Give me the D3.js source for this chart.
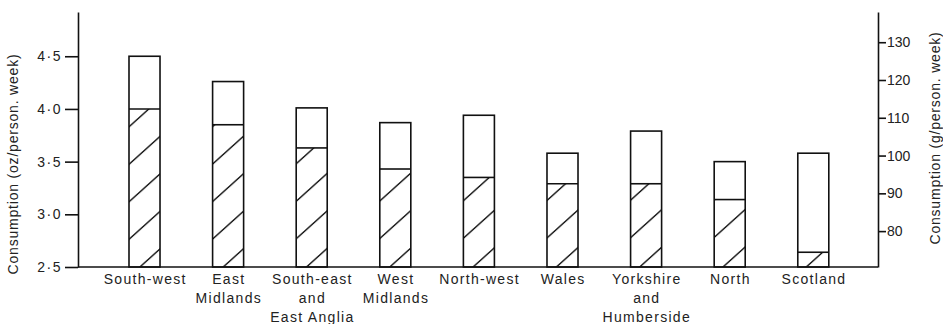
<!DOCTYPE html>
<html>
<head>
<meta charset="utf-8">
<script src="https://cdn.jsdelivr.net/npm/d3@7/dist/d3.min.js"></script>
<style>
  html, body { margin: 0; padding: 0; background: #fff; }
  svg { display: block; }
  text { font-family: "Liberation Sans", Arial, sans-serif; fill: #222; }
</style>
</head>
<body>
<svg id="chart" width="943" height="324"></svg>
<script>
// Regions, ordered as plotted
const regions = [
  ["South-west"],
  ["East", "Midlands"],
  ["South-east", "and", "East Anglia"],
  ["West", "Midlands"],
  ["North-west"],
  ["Wales"],
  ["Yorkshire", "and", "Humberside"],
  ["North"],
  ["Scotland"]
];
// Total consumption per region (oz/person.week) – full bar height
const totalOz = [4.50, 4.26, 4.01, 3.87, 3.94, 3.58, 3.79, 3.50, 3.58];
// Hatched portion of each bar (oz/person.week)
const hatchedOz = [4.00, 3.85, 3.63, 3.43, 3.35, 3.29, 3.29, 3.14, 2.64];
// Axis ticks
const ozTicks = [2.5, 3.0, 3.5, 4.0, 4.5];
const gTicks = [80, 90, 100, 110, 120, 130];

const svg = d3.select("#chart");
const leftX = 78, rightX = 878, baseY = 267;
const ids = regions.map((r, i) => "r" + i);

const x = d3.scaleBand()
  .domain(ids)
  .range([87.2, 870.6])
  .paddingInner(0.629)
  .paddingOuter(0.5);

const y = d3.scaleLinear().domain([2.5, 4.92]).range([baseY, 12]);
const yG = d3.scaleLinear().domain([70.5, 138]).range([baseY, 12]);

// Diagonal hatch fill
const defs = svg.append("defs");
const pat = defs.append("pattern")
  .attr("id", "hatch")
  .attr("patternUnits", "userSpaceOnUse")
  .attr("width", 10)
  .attr("height", 37.5)
  .attr("patternTransform", "skewY(-42)");
pat.append("rect").attr("width", 10).attr("height", 37.5).attr("fill", "#fff");
pat.append("line")
  .attr("x1", -1).attr("x2", 11)
  .attr("y1", 18).attr("y2", 18)
  .attr("stroke", "#111").attr("stroke-width", 1.9);

const bars = svg.append("g").selectAll("g")
  .data(ids)
  .join("g");

// Hatched part
bars.append("rect")
  .attr("x", d => x(d))
  .attr("width", x.bandwidth())
  .attr("y", (d, i) => y(hatchedOz[i]))
  .attr("height", (d, i) => y(2.5) - y(hatchedOz[i]))
  .attr("fill", "url(#hatch)");

// Divider between hatched and open part
bars.append("line")
  .attr("x1", d => x(d))
  .attr("x2", d => x(d) + x.bandwidth())
  .attr("y1", (d, i) => y(hatchedOz[i]))
  .attr("y2", (d, i) => y(hatchedOz[i]))
  .attr("stroke", "#111").attr("stroke-width", 1.6);

// Bar outline (total)
bars.append("rect")
  .attr("x", d => x(d))
  .attr("width", x.bandwidth())
  .attr("y", (d, i) => y(totalOz[i]))
  .attr("height", (d, i) => y(2.5) - y(totalOz[i]))
  .attr("fill", "none")
  .attr("stroke", "#111").attr("stroke-width", 1.6);

// Baseline
svg.append("line")
  .attr("x1", leftX).attr("x2", rightX)
  .attr("y1", y(2.5)).attr("y2", y(2.5))
  .attr("stroke", "#111").attr("stroke-width", 1.6);

// Left axis (oz)
const fmtOz = d => d.toFixed(1).replace(".", "·");
const axL = svg.append("g")
  .attr("transform", `translate(${leftX},0)`)
  .call(d3.axisLeft(y).tickValues(ozTicks).tickFormat(fmtOz)
    .tickSize(13).tickSizeOuter(0).tickPadding(3));
axL.selectAll("text")
  .style("font-size", "14px")
  .style("letter-spacing", "1.5px");

// Right axis (g)
const axR = svg.append("g")
  .attr("transform", `translate(${rightX},0)`)
  .call(d3.axisRight(yG).tickValues(gTicks).tickFormat(d3.format("d"))
    .tickSize(8).tickSizeOuter(0).tickPadding(1));
axR.selectAll("text").style("font-size", "14px");

[axL, axR].forEach(ax => {
  ax.select(".domain").attr("stroke", "#111").attr("stroke-width", 1.6);
  ax.selectAll(".tick line").attr("stroke", "#111").attr("stroke-width", 1.6);
  ax.selectAll("text").attr("fill", "#222")
    .style("font-family", "'Liberation Sans', Arial, sans-serif");
});

// Category labels
const labels = svg.append("g").selectAll("text")
  .data(ids)
  .join("text")
  .attr("text-anchor", "middle")
  .style("font-size", "14px")
  .style("letter-spacing", "1.3px")
  .attr("transform", d => `translate(${x(d) + x.bandwidth() / 2 + 0.7},0)`);
labels.each(function(d, i) {
  d3.select(this).selectAll("tspan")
    .data(regions[i])
    .join("tspan")
    .attr("x", 0)
    .attr("y", (t, j) => 284 + j * 19)
    .text(t => t);
});

// Axis titles
svg.append("text")
  .attr("transform", "translate(18,164) rotate(-90)")
  .attr("text-anchor", "middle")
  .style("font-size", "14px")
  .style("letter-spacing", "0.8px")
  .text("Consumption (oz/person. week)");

svg.append("text")
  .attr("transform", "translate(940,138) rotate(-90)")
  .attr("text-anchor", "middle")
  .style("font-size", "14px")
  .style("letter-spacing", "0.8px")
  .text("Consumption (g/person. week)");
</script>
</body>
</html>
